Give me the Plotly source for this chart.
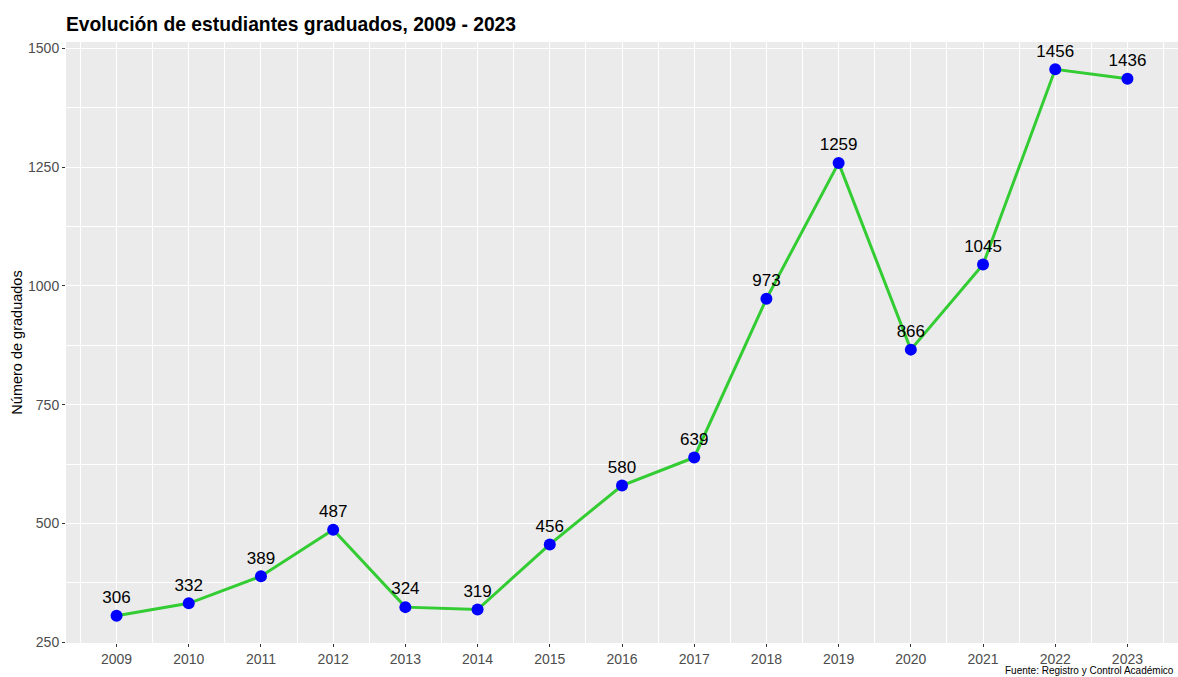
import plotly.graph_objects as go

years = list(range(2009, 2024))
graduados = [306, 332, 389, 487, 324, 319, 456, 580, 639, 973, 1259, 866, 1045, 1456, 1436]
y_ticks = [250, 500, 750, 1000, 1250, 1500]

W, H = 1178, 677
L, R, T, B = 66, 0, 42, 34
panel_h = H - T - B

fig = go.Figure()

fig.add_trace(go.Scatter(
    x=years,
    y=graduados,
    mode='lines+markers+text',
    line=dict(color='#33CC33', width=3),
    marker=dict(color='blue', size=12),
    text=[str(v) for v in graduados],
    textposition='top center',
    textfont=dict(family='Liberation Sans, Arial', size=17, color='black'),
    cliponaxis=False,
    showlegend=False,
))

fig.update_layout(
    width=W,
    height=H,
    margin=dict(l=L, r=R, t=T, b=B, autoexpand=False),
    paper_bgcolor='white',
    plot_bgcolor='#EBEBEB',
    font=dict(family='Liberation Sans, Arial', color='#4D4D4D'),
    title=dict(
        text='<b>Evolución de estudiantes graduados, 2009 - 2023</b>',
        x=L / W, xanchor='left',
        y=1 - 24 / H, yanchor='middle',
        font=dict(size=19.3, color='black'),
    ),
    xaxis=dict(
        range=[2008.3, 2023.7],
        tickvals=years,
        ticktext=[str(y) for y in years],
        showgrid=True, gridcolor='white', gridwidth=1.2,
        minor=dict(dtick=0.5, tick0=2008.5, showgrid=True, gridcolor='white', gridwidth=0.5),
        ticks='outside', ticklen=3, tickcolor='#333333', tickwidth=1,
        tickfont=dict(size=14, color='#4D4D4D'),
        zeroline=False,
    ),
    yaxis=dict(
        range=[248.5, 1513.5],
        tickvals=y_ticks,
        showgrid=True, gridcolor='white', gridwidth=1.2,
        minor=dict(tickvals=[375, 625, 875, 1125, 1375], showgrid=True, gridcolor='white', gridwidth=0.5),
        ticks='outside', ticklen=3, tickcolor='#333333', tickwidth=1,
        tickfont=dict(size=14, color='#4D4D4D'),
        title=dict(text='Número de graduados', font=dict(size=14.5, color='black'), standoff=1),
        zeroline=False,
    ),
    annotations=[dict(
        text='Fuente: Registro y Control Académico',
        xref='paper', yref='paper', x=1, xshift=-2, y=-27 / panel_h,
        xanchor='right', yanchor='middle', showarrow=False,
        font=dict(size=10, color='black'),
    )],
)

# drop the default 8px body margin so the figure fills the window exactly
fig.write_html("out.html", config={'displayModeBar': False},
               post_script="document.body.style.margin='0';")
